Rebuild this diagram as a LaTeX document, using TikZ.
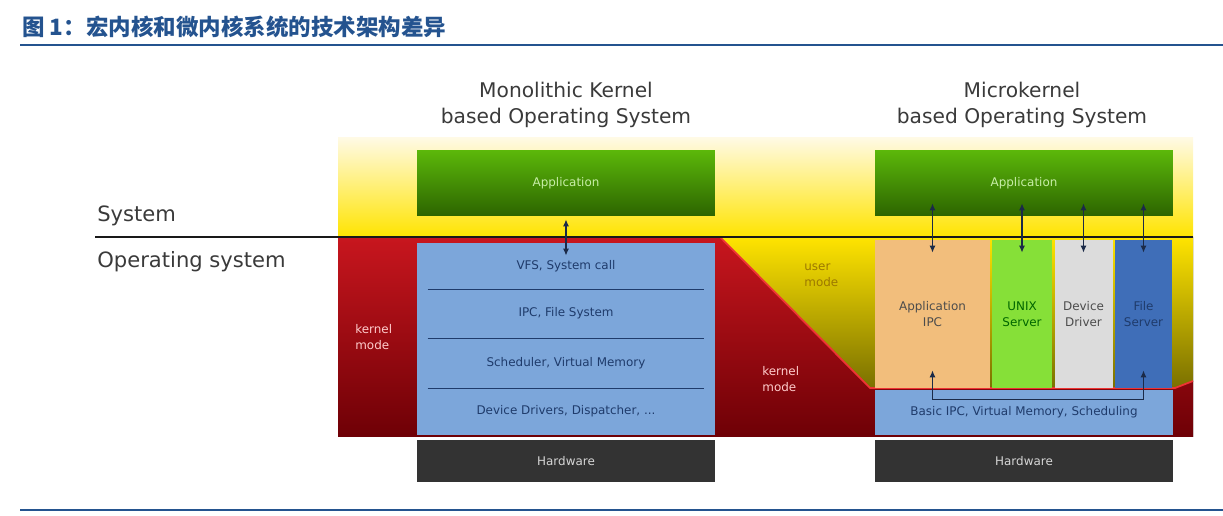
\documentclass[tikz,border=0pt]{standalone}
\usepackage{fontspec}
\setmainfont{DejaVu Sans}
\newfontfamily\cjk{Noto Sans CJK SC}
\usetikzlibrary{arrows.meta}

\definecolor{titleblue}{HTML}{24538F}
\definecolor{labelgray}{HTML}{3A3A3A}
\definecolor{appgreen}{HTML}{5CB80A}
\definecolor{appdark}{HTML}{2C6400}
\definecolor{apptext}{HTML}{C8EEA8}
\definecolor{layerblue}{HTML}{7CA6DA}
\definecolor{layertext}{HTML}{1F3B6B}
\definecolor{hwgray}{HTML}{333333}
\definecolor{hwtext}{HTML}{D6D6D6}
\definecolor{ipctan}{HTML}{F2BE7C}
\definecolor{unixgreen}{HTML}{86E038}
\definecolor{drvgray}{HTML}{DCDCDC}
\definecolor{fsblue}{HTML}{3F6EB8}
\definecolor{arrowcol}{HTML}{1B2A48}
\definecolor{redtop}{HTML}{C8161E}
\definecolor{redbottom}{HTML}{6E0006}
\definecolor{rededge}{HTML}{EE3434}
\definecolor{yellowtop}{HTML}{FFFAE4}
\definecolor{yellowbottom}{HTML}{FFE400}
\definecolor{olive}{HTML}{7A7000}
\definecolor{usertext}{HTML}{9C7800}

\newcommand{\boxfont}{\fontsize{6.8}{9}\selectfont}

\tikzset{
  heading/.style={font=\fontsize{11.5}{14.5}\selectfont, text=labelgray, align=center},
  sidelabel/.style={font=\fontsize{12}{14}\selectfont, text=labelgray, anchor=west, inner sep=0pt},
  appbox/.style={top color=appgreen, bottom color=appdark, text=apptext, font=\boxfont,
    minimum width=5.96cm, minimum height=1.32cm, inner sep=0pt},
  layer/.style={fill=layerblue, text=layertext, font=\boxfont,
    minimum width=5.96cm, inner sep=0pt},
  hwbox/.style={fill=hwgray, text=hwtext, font=\boxfont,
    minimum width=5.96cm, minimum height=.84cm, inner sep=0pt},
  server/.style={font=\boxfont, align=center, minimum height=2.96cm, inner sep=0pt},
  modetext/.style={font=\boxfont, align=left, anchor=west, inner sep=0pt},
  sepline/.style={draw=layertext, line width=.8pt},
  biarrow/.style={draw=arrowcol, line width=.8pt,
    {Latex[length=4pt,width=3.5pt]}-{Latex[length=4pt,width=3.5pt]}}
}

\begin{document}
\begin{tikzpicture}[x=0.02cm, y=-0.02cm]
  \useasboundingbox (0,0) rectangle (1223,516);

  % title
  \node[anchor=west, inner sep=0pt, text=titleblue, font=\fontsize{12.8}{15}\selectfont] (title) at (22,27)
    {\cjk\bfseries 图 1：宏内核和微内核系统的技术架构差异};
  \draw[titleblue, line width=1.7pt] (20,45) -- (1223,45);
  \draw[titleblue, line width=1.1pt] (20,510) -- (1223,510);

  % backgrounds
  \fill[top color=yellowtop, bottom color=yellowbottom] (338,138) rectangle (1193,237);
  \fill[top color=yellowbottom, bottom color=olive]
    (720,237) -- (1193,237) -- (1193,381) -- (1175,388) -- (870,388) -- cycle;
  \fill[top color=redtop, bottom color=redbottom]
    (338,237) -- (720,237) -- (870,388) -- (1175,388) -- (1193,381)
    -- (1193,437) -- (338,437) -- cycle;
  \draw[rededge, line width=1pt] (720,237) -- (870,388) -- (1175,388) -- (1193,381);

  \draw[black!90, line width=1.7pt] (95,237) -- (1193,237);

  \node[sidelabel] (sys) at (97,216) {System};
  \node[sidelabel] (os) at (97,262) {Operating system};

  % monolithic kernel
  \node[heading] (monohead) at (566,105) {Monolithic Kernel\\based Operating System};
  \node[appbox] (appL) at (566,183) {Application};
  \node[layer, minimum height=.92cm] (vfs) at (566,266) {VFS, System call};
  \node[layer, minimum height=.98cm] (ipcfs) at (566,313.5) {IPC, File System};
  \node[layer, minimum height=1cm] (sched) at (566,363) {Scheduler, Virtual Memory};
  \node[layer, minimum height=.94cm] (drv) at (566,411.5) {Device Drivers, Dispatcher, ...};
  \node[hwbox] (hwL) at (566,461) {Hardware};
  \foreach \l in {vfs,ipcfs,sched}
    \draw[sepline] ([xshift=.22cm]\l.south west) -- ([xshift=-.22cm]\l.south east);
  \draw[biarrow] ([yshift=-.06cm]appL.south) -- ([yshift=-.26cm]vfs.north);

  \node[modetext, text=red!20!white] (kmL) at (355,337) {kernel\\mode};
  \node[modetext, text=red!20!white] (kmM) at (762,379) {kernel\\mode};
  \node[modetext, text=usertext] (um) at (804,275) {user\\mode};

  % microkernel
  \node[heading] (microhead) at (1022,105) {Microkernel\\based Operating System};
  \node[appbox] (appR) at (1024,183) {Application};
  \node[server, fill=ipctan, text=black!70, minimum width=2.3cm] (aipc) at (932.5,314) {Application\\IPC};
  \node[server, fill=unixgreen, text=black!60!green, minimum width=1.2cm] (unix) at (1022,314) {UNIX\\Server};
  \node[server, fill=drvgray, text=black!70, minimum width=1.16cm] (ddrv) at (1083.5,314) {Device\\Driver};
  \node[server, fill=fsblue, text=layertext, minimum width=1.14cm] (fsrv) at (1143.5,314) {File\\Server};
  \node[layer, minimum height=.9cm] (basic) at (1024,412.5) {Basic IPC, Virtual Memory, Scheduling};
  \node[hwbox] (hwR) at (1024,461) {Hardware};
  \foreach \c in {aipc,unix,ddrv,fsrv}
    \draw[biarrow] ([yshift=.26cm]appR.south -| \c.north) -- ([yshift=-.26cm]\c.north);
  \draw[biarrow] ([yshift=.36cm]aipc.south) -- ([yshift=-.2cm]aipc.south |- basic.north)
    -| ([yshift=.36cm]fsrv.south);
\end{tikzpicture}
\end{document}
